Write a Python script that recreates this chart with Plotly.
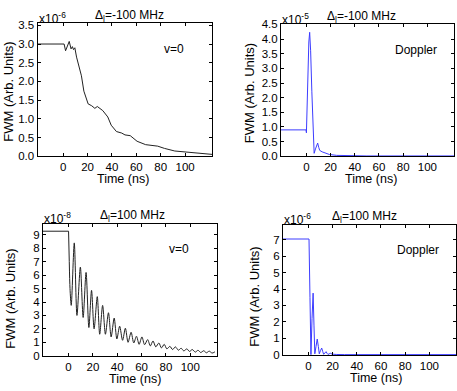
import plotly.graph_objects as go

# ---- data (values in units of the axis multiplier) ----
# top-left: v=0, detuning -100 MHz (x1e-6)
t_v0_neg = [-21, 0, 0.8, 2, 5, 6.5, 7.6, 8.5, 9.6, 11, 13.5, 15, 17, 18.3, 20.5, 23.4,
            26, 28, 30.4, 32.5, 36.6, 39.4, 43.7, 48, 50.7, 55, 60.6, 67.6, 77.5, 83,
            91.5, 105.6, 122]
fwm_v0_neg = [3.0, 3.0, 3.0, 2.82, 3.07, 2.87, 2.93, 2.85, 2.9, 2.65, 2.3, 2.15, 1.74,
              1.6, 1.4, 1.35, 1.28, 1.33, 1.27, 1.22, 1.05, 0.83, 0.66, 0.62, 0.57,
              0.55, 0.4, 0.31, 0.27, 0.21, 0.14, 0.1, 0.05]

# top-right: Doppler, detuning -100 MHz (x1e-5)
t_dop_neg = [-21, -0.3, 0, 1, 2, 2.7, 3.5, 4.5, 5.5, 6.4, 7.5, 8.5, 9.3, 10.2, 11, 13,
             15, 19, 25, 35, 50, 122]
fwm_dop_neg = [0.9, 0.9, 0.8, 2.5, 3.9, 4.23, 3.6, 2.2, 0.8, 0.1, 0.25, 0.4, 0.45, 0.3,
               0.2, 0.15, 0.12, 0.06, 0.03, 0.02, 0.01, 0.01]

# bottom-left: v=0, detuning +100 MHz (x1e-8)
t_v0_pos = [-21, 0, 0.6, 1.2, 2.2, 4.7, 6.9, 9.7, 12, 14.4, 16.7, 18.9, 21, 23.6, 25.6,
            28, 30.3, 32.8, 35, 37.5, 39.7, 42, 44.4, 46.7, 48.9, 51.4, 53.6, 55.8, 58,
            60.3, 62.5, 65, 67.2, 69.4, 71.7, 74.2, 76.4, 78.6, 80.8, 83.3, 85.5, 87.8,
            90.3, 92.5, 94.7, 97.2, 99.4, 101.7, 104.2, 106.4, 108.6, 111.1, 113.3,
            115.6, 118, 120.3]
fwm_v0_pos = [9.27, 9.27, 7.0, 5.0, 3.75, 8.4, 3.0, 6.6, 2.85, 6.2, 2.1, 4.87, 2.0, 4.4,
              1.6, 3.75, 1.6, 3.2, 1.4, 2.8, 1.25, 2.2, 1.15, 2.05, 1.0, 1.75, 0.95,
              1.45, 0.85, 1.4, 0.82, 1.2, 0.73, 1.1, 0.66, 0.95, 0.58, 0.85, 0.51, 0.7,
              0.46, 0.66, 0.41, 0.56, 0.36, 0.51, 0.32, 0.46, 0.27, 0.41, 0.24, 0.37,
              0.22, 0.34, 0.2, 0.29]

# bottom-right: Doppler, detuning +100 MHz (x1e-6)
t_dop_pos = [-21, 0.5, 1.3, 2.1, 3.0, 3.9, 4.6, 5.3, 6.3, 7.3, 8.2, 9.0, 10.0, 11.0,
             11.8, 12.6, 13.6, 14.6, 15.4, 16.2, 17.2, 18.2, 19.5, 21.5, 23, 30, 122]
fwm_dop_pos = [7.05, 7.05, 3.5, 0.0, 2.2, 3.75, 1.8, 0.05, 0.5, 0.95, 0.5, 0.05, 0.25,
               0.4, 0.2, 0.02, 0.1, 0.18, 0.08, 0.01, 0.05, 0.08, 0.03, 0.04, 0.01,
               0.0, 0.0]

x_ticks = [0, 20, 40, 60, 80, 100]

W, H = 457, 391
FONT = "Liberation Sans, Arial, sans-serif"
BLACK = "#222222"
BLUE = "#3c3cff"


def px_x(p):
    return p / W


def px_y(p):
    return 1 - p / H


# panel boxes in pixels: (left, right, top, bottom)
boxes = [(37.5, 212, 18, 155), (281, 454, 19, 155),
         (43, 217, 225, 361.5), (283, 456, 226, 360.5)]
# label placements in pixels: title centre x, "Time" centre x, y-title (x, y)
title_x = [129, 361, 132, 364]
time_x = [123, 371, 135, 376]
ytitle_xy = [(8.5, 89), (249, 90), (11, 302), (255, 300)]

panels = [
    dict(t=t_v0_neg, y=fwm_v0_neg, color=BLACK, yr=[0, 3.55],
         yt=[0, 0.5, 1, 1.5, 2, 2.5, 3, 3.5], fmt=".1f", split=None,
         title="Δ<sub>l</sub>=-100 MHz", exp="x10<sup>-6</sup>", tag="v=0"),
    dict(t=t_dop_neg, y=fwm_dop_neg, color=BLUE, yr=[0, 4.5],
         yt=[0, 0.5, 1, 1.5, 2, 2.5, 3, 3.5, 4, 4.5], fmt=".1f", split=None,
         title="Δ<sub>l</sub>=-100 MHz", exp="x10<sup>-5</sup>", tag="Doppler"),
    dict(t=t_v0_pos, y=fwm_v0_pos, color=BLACK, yr=[-0.05, 9.8],
         yt=list(range(10)), fmt="d", split=2,
         title="Δ<sub>l</sub>=100 MHz", exp="x10<sup>-8</sup>", tag="v=0"),
    dict(t=t_dop_pos, y=fwm_dop_pos, color=BLUE, yr=[-0.05, 7.9],
         yt=list(range(8)), fmt="d", split=None,
         title="Δ<sub>l</sub>=100 MHz", exp="x10<sup>-6</sup>", tag="Doppler"),
]

fig = go.Figure()
annotations = []
layout = {}


def note(text, x, y, size=12, xanchor="center", **kw):
    return dict(text=text, x=px_x(x), y=px_y(y), xref="paper", yref="paper",
                xanchor=xanchor, yanchor="middle", showarrow=False,
                font=dict(family=FONT, size=size, color="black"), **kw)


for i, (p, b) in enumerate(zip(panels, boxes)):
    n = "" if i == 0 else str(i + 1)
    line = dict(color=p["color"], width=1)
    if p["split"] is None:
        fig.add_trace(go.Scatter(x=p["t"], y=p["y"], mode="lines", line=line,
                                 xaxis="x" + n, yaxis="y" + n, showlegend=False))
    else:
        k = p["split"]
        # flat part and the drop drawn straight, the ringing drawn smooth
        fig.add_trace(go.Scatter(x=p["t"][:k + 1], y=p["y"][:k + 1], mode="lines",
                                 line=line, xaxis="x" + n, yaxis="y" + n,
                                 showlegend=False))
        fig.add_trace(go.Scatter(x=p["t"][k:], y=p["y"][k:], mode="lines",
                                 line=dict(shape="spline", smoothing=0.8, **line),
                                 xaxis="x" + n, yaxis="y" + n, showlegend=False))
    left, right, top, bottom = b
    axis_common = dict(showline=True, linecolor="black", linewidth=1, mirror="ticks",
                       ticks="inside", ticklen=3, tickcolor="black", showgrid=False,
                       zeroline=False,
                       tickfont=dict(family=FONT, size=11.5, color="black"))
    layout["xaxis" + n] = dict(domain=[px_x(left), px_x(right)], range=[-21, 122],
                               tickvals=x_ticks, anchor="y" + n, **axis_common)
    layout["yaxis" + n] = dict(domain=[px_y(bottom), px_y(top)], range=p["yr"],
                               tickvals=p["yt"], tickformat=p["fmt"],
                               anchor="x" + n, **axis_common)

    annotations += [
        note(p["title"], title_x[i], top - 8),
        note(p["exp"], left - 1, top - 6, xanchor="left"),
        note(p["tag"], right - 38, top + 26),
        note("Time (ns)", time_x[i], bottom + 23, size=12.5),
        note("FWM (Arb. Units)", ytitle_xy[i][0], ytitle_xy[i][1], size=13,
             textangle=-90),
    ]

fig.update_layout(width=W, height=H, margin=dict(l=0, r=0, t=0, b=0),
                  paper_bgcolor="white", plot_bgcolor="white",
                  font=dict(family=FONT, color="black"),
                  annotations=annotations, **layout)

# drop the browser's default 8px body margin so the figure sits at the page corner
fig.write_html("out.html", config={"displayModeBar": False},
               post_script="document.body.style.margin='0';")
